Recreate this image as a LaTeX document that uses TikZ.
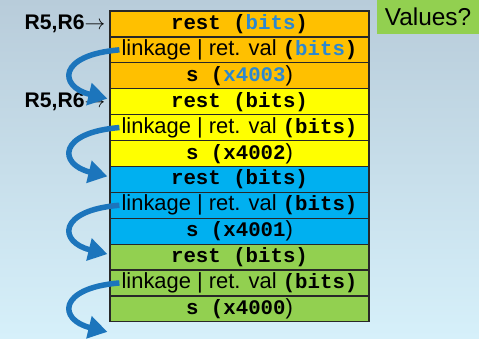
\documentclass[tikz,border=0pt]{standalone}
\usepackage{fontspec}
\setmainfont{Liberation Sans}
\newfontfamily\codefont{Liberation Mono}
\usetikzlibrary{arrows.meta}

\definecolor{bgtop}{RGB}{184,204,218}
\definecolor{bgbot}{RGB}{214,240,250}
\definecolor{frameorange}{RGB}{255,192,0}
\definecolor{frameyellow}{RGB}{255,255,0}
\definecolor{frameblue}{RGB}{0,176,240}
\definecolor{framegreen}{RGB}{146,208,80}
\definecolor{rowline}{RGB}{40,40,40}
\definecolor{linkblue}{RGB}{28,117,188}
\definecolor{bitsblue}{RGB}{44,136,208}

% bold monospaced code text
\newcommand\cw[1]{{\fontsize{20.8}{24}\codefont\bfseries #1}}

\tikzset{
  stackrow/.style={draw=rowline, line width=1.2bp, minimum width=259bp,
    minimum height=25.9bp, inner sep=0pt, anchor=center,
    font=\fontsize{22}{24}\selectfont},
  ptrlabel/.style={anchor=east, inner sep=0pt,
    font=\fontsize{21.2}{24}\selectfont\bfseries},
  linkarrow/.style={draw=linkblue, line width=5.5bp,
    -{Triangle[length=19bp, width=22bp]}},
}

\begin{document}
\begin{tikzpicture}[x=1bp, y=-1bp]
  % background
  \shade[top color=bgtop, bottom color=bgbot] (0,0) rectangle (479,338);
  \useasboundingbox (0,0) rectangle (479,338);

  % frame s(x4003)
  \node[stackrow, fill=frameorange] (r1) at (239.5,23.95) {\cw{rest (\textcolor{bitsblue}{bits})}};
  \node[stackrow, fill=frameorange] (r2) at (239.5,49.85) {linkage | ret. val \cw{(\textcolor{bitsblue}{bits})}};
  \node[stackrow, fill=frameorange] (r3) at (239.5,75.75) {\cw{s (\textcolor{bitsblue}{x4003}})};
  % frame s(x4002)
  \node[stackrow, fill=frameyellow] (r4) at (239.5,101.65) {\cw{rest (bits)}};
  \node[stackrow, fill=frameyellow] (r5) at (239.5,127.55) {linkage | ret. val \cw{(bits)}};
  \node[stackrow, fill=frameyellow] (r6) at (239.5,153.45) {\cw{s (x4002})};
  % frame s(x4001)
  \node[stackrow, fill=frameblue] (r7) at (239.5,179.35) {\cw{rest (bits)}};
  \node[stackrow, fill=frameblue] (r8) at (239.5,205.25) {linkage | ret. val \cw{(bits)}};
  \node[stackrow, fill=frameblue] (r9) at (239.5,231.15) {\cw{s (x4001})};
  % frame s(x4000)
  \node[stackrow, fill=framegreen] (r10) at (239.5,257.05) {\cw{rest (bits)}};
  \node[stackrow, fill=framegreen] (r11) at (239.5,282.95) {linkage | ret. val \cw{(bits)}};
  \node[stackrow, fill=framegreen] (r12) at (239.5,308.85) {\cw{s (x4000})};

  % stack / frame pointers
  \node[ptrlabel] (p1) at ([xshift=-4bp]r1.west) {R5,R6$\rightarrow$};
  \node[ptrlabel] (p2) at ([xshift=-4bp]r4.west) {R5,R6$\rightarrow$};

  % question box
  \node[fill=framegreen, minimum width=102bp, minimum height=34bp, inner sep=0pt,
        font=\fontsize{24.5}{28}\selectfont] (q) at (428,17) {Values?};

  % linkage pointers to the next frame
  \coordinate (below) at ([xshift=-2bp, yshift=-23bp]r12.west);
  \draw[linkarrow] ([xshift=10bp]r2.west) .. controls +(-62,5) and +(-49,-12) .. ([xshift=-2bp, yshift=3bp]r4.west);
  \draw[linkarrow] ([xshift=10bp]r5.west) .. controls +(-62,5) and +(-49,-12) .. ([xshift=-2bp, yshift=3bp]r7.west);
  \draw[linkarrow] ([xshift=10bp]r8.west) .. controls +(-62,5) and +(-49,-12) .. ([xshift=-2bp, yshift=3bp]r10.west);
  \draw[linkarrow] ([xshift=10bp]r11.west) .. controls +(-62,5) and +(-49,-12) .. (below);
\end{tikzpicture}
\end{document}
